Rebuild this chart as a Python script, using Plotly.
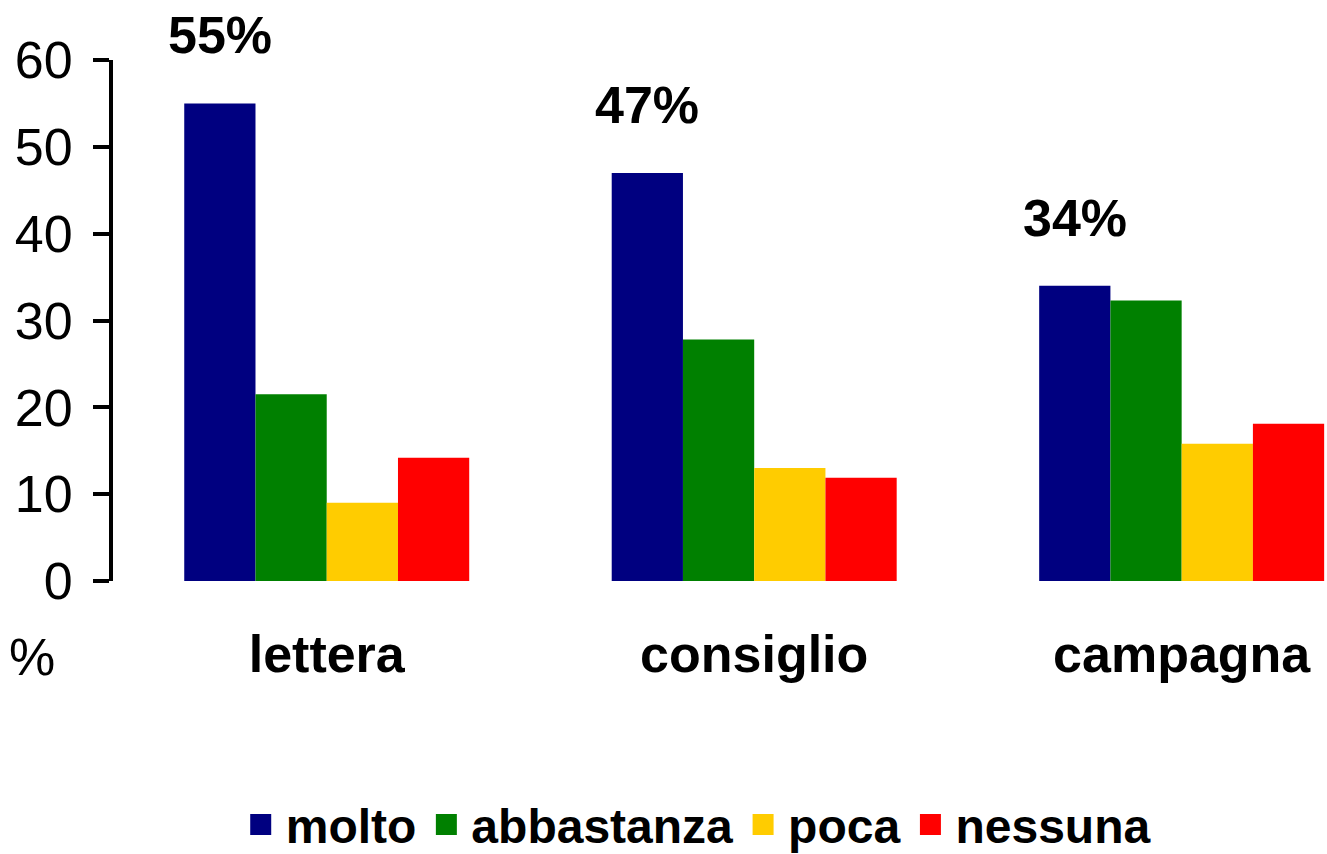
import plotly.graph_objects as go

categories = ["lettera", "consiglio", "campagna"]
series_names = ["molto", "abbastanza", "poca", "nessuna"]
molto = [55, 47, 34]
abbastanza = [21.5, 27.8, 32.3]
poca = [9.0, 13.0, 15.8]
nessuna = [14.2, 11.9, 18.1]
top_labels = ["55%", "47%", "34%"]
y_ticks = [0, 10, 20, 30, 40, 50, 60]

colors = ["#000080", "#008000", "#FFCC00", "#FF0000"]
values = [molto, abbastanza, poca, nessuna]
FONT = "Liberation Sans, Arial, sans-serif"

fig = go.Figure()

for name, vals, col in zip(series_names, values, colors):
    fig.add_trace(go.Bar(
        x=categories, y=vals, name=name,
        marker=dict(color=col, line=dict(width=0)),
        legendgroup=name, showlegend=False,
    ))

# bigger legend swatches than the default bar symbol
for name, col in zip(series_names, colors):
    fig.add_trace(go.Scatter(
        x=[None], y=[None], mode="markers", name=name,
        marker=dict(symbol="square", size=16, color=col,
                    line=dict(color=col, width=5)),
        legendgroup=name, showlegend=True,
    ))

# percentage labels over the "molto" bars (first bar of each group)
bar_w = (1 - 1 / 3) / len(series_names)
for i, (lab, v) in enumerate(zip(top_labels, molto)):
    fig.add_annotation(
        x=i - 1.5 * bar_w, y=v, text=lab, showarrow=False,
        yanchor="middle", yshift=68,
        font=dict(family=FONT, size=52, color="black", weight="bold"),
    )

fig.add_annotation(
    xref="paper", yref="paper", x=-0.067, y=-0.145, text="%",
    showarrow=False, xanchor="center", yanchor="middle",
    font=dict(family=FONT, size=52, color="black"),
)

fig.update_layout(
    width=1327, height=854,
    margin=dict(l=113, r=0, t=60, b=273, autoexpand=False),
    paper_bgcolor="white", plot_bgcolor="white",
    barmode="group", bargap=1 / 3, bargroupgap=0,
    font=dict(family=FONT, color="black"),
    xaxis=dict(
        type="category", range=[-0.5, 2.34], automargin=False,
        showline=False, showgrid=False, zeroline=False, ticks="",
        tickfont=dict(family=FONT, size=52, color="black", weight="bold"),
        ticklabelstandoff=38,
    ),
    yaxis=dict(
        range=[0, 60], tickvals=y_ticks, automargin=False,
        showline=True, linecolor="black", linewidth=4,
        ticks="outside", ticklen=16, tickwidth=4, tickcolor="black",
        showgrid=False, zeroline=False,
        tickfont=dict(family=FONT, size=52, color="black"),
        ticklabelstandoff=10,
    ),
    legend=dict(
        orientation="h", xanchor="center", x=0.48,
        yanchor="middle", y=-0.468, itemwidth=40,
        font=dict(family=FONT, size=48, color="black", weight="bold"),
        itemsizing="trace",
    ),
)

# page body has a default 8px margin; drop it so the figure fills the window
fig.write_html("out.html", config={"displayModeBar": False},
               post_script="document.body.style.margin='0';")
